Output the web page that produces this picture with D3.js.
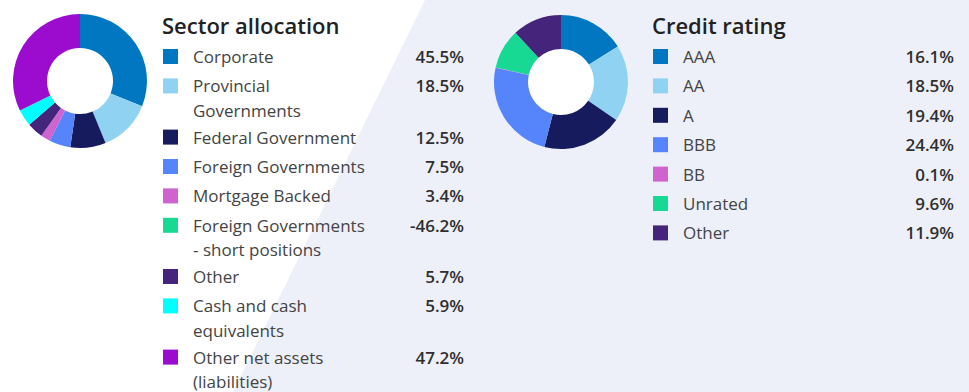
<!DOCTYPE html>
<html>
<head>
<meta charset="utf-8">
<script src="https://cdn.jsdelivr.net/npm/d3@7"></script>
<style>
  html, body { margin: 0; padding: 0; background: #ffffff; }
  svg { display: block; font-family: "Open Sans", "Noto Sans", sans-serif; }
</style>
</head>
<body>
<svg id="chart" width="969" height="392"></svg>
<script>
// Sector allocation
const sectorLabels = ["Corporate", "Provincial Governments", "Federal Government", "Foreign Governments",
  "Mortgage Backed", "Foreign Governments - short positions", "Other", "Cash and cash equivalents",
  "Other net assets (liabilities)"];
const sectorValues = [45.5, 18.5, 12.5, 7.5, 3.4, -46.2, 5.7, 5.9, 47.2];
const sectorColors = ["#0077c0", "#8fd2f2", "#161b5e", "#5584fb", "#cf63cf", "#18d994", "#45247b", "#00ffff", "#9b0ccf"];

// Credit rating
const ratingLabels = ["AAA", "AA", "A", "BBB", "BB", "Unrated", "Other"];
const ratingValues = [16.1, 18.5, 19.4, 24.4, 0.1, 9.6, 11.9];
const ratingColors = ["#0077c0", "#8fd2f2", "#161b5e", "#5584fb", "#cf63cf", "#18d994", "#45247b"];

const svg = d3.select("#chart");
const pct = v => d3.format(".1f")(v).replace("\u2212", "-") + "%";

// Tinted diagonal panel behind the right half
svg.append("path")
  .attr("d", "M425,0 L969,0 L969,392 L233,392 Z")
  .attr("fill", "#eef0f9");

function donut(cx, cy, labels, values, colors) {
  const items = labels.map((l, i) => ({ label: l, value: values[i], color: colors[i] }))
    .filter(d => d.value > 0);
  const pie = d3.pie().sort(null).value(d => d.value);
  const arc = d3.arc().innerRadius(33).outerRadius(67);
  const g = svg.append("g").attr("transform", `translate(${cx},${cy})`);
  g.append("circle").attr("r", 33).attr("fill", "#ffffff");
  g.selectAll("path").data(pie(items)).join("path")
    .attr("d", arc)
    .attr("fill", d => d.data.color);
}

// Greedy word wrap; a lone "-" is kept with the word after it
function wrapWords(textSel, label, maxW) {
  const words = label.replace(" - ", " -\u00a0").split(" ");
  const lines = [];
  let cur = [];
  const probe = textSel.append("tspan");
  words.forEach(w => {
    const trial = cur.concat([w]).join(" ");
    probe.text(trial);
    if (cur.length && probe.node().getComputedTextLength() > maxW) {
      lines.push(cur.join(" "));
      cur = [w];
    } else {
      cur.push(w);
    }
  });
  if (cur.length) lines.push(cur.join(" "));
  probe.remove();
  return lines;
}

function legend(x, right, title, labels, values, colors, maxW) {
  const g = svg.append("g");
  g.append("text")
    .attr("x", x).attr("y", 34)
    .attr("font-size", 22).attr("font-weight", 600)
    .attr("fill", "#222222")
    .text(title);

  let y = 63;
  labels.forEach((label, i) => {
    g.append("rect")
      .attr("x", x + 1).attr("y", y - 14)
      .attr("width", 15).attr("height", 15)
      .attr("fill", colors[i]);

    const t = g.append("text")
      .attr("x", x + 31).attr("y", y)
      .attr("font-size", 17)
      .attr("fill", "#444444");
    const lines = wrapWords(t, label, maxW);
    lines.forEach((ln, k) => {
      t.append("tspan").attr("x", x + 31).attr("dy", k === 0 ? 0 : 24.5).text(ln);
    });

    g.append("text")
      .attr("x", right).attr("y", y)
      .attr("text-anchor", "end")
      .attr("font-size", 17).attr("font-weight", 600)
      .attr("fill", "#2e2e2e")
      .text(pct(values[i]));

    y += 29.4 + (lines.length - 1) * 21.8;
  });
}

donut(80, 81, sectorLabels, sectorValues, sectorColors);
donut(561, 82, ratingLabels, ratingValues, ratingColors);
legend(162, 464, "Sector allocation", sectorLabels, sectorValues, sectorColors, 180);
legend(652, 954, "Credit rating", ratingLabels, ratingValues, ratingColors, 180);
</script>
</body>
</html>
